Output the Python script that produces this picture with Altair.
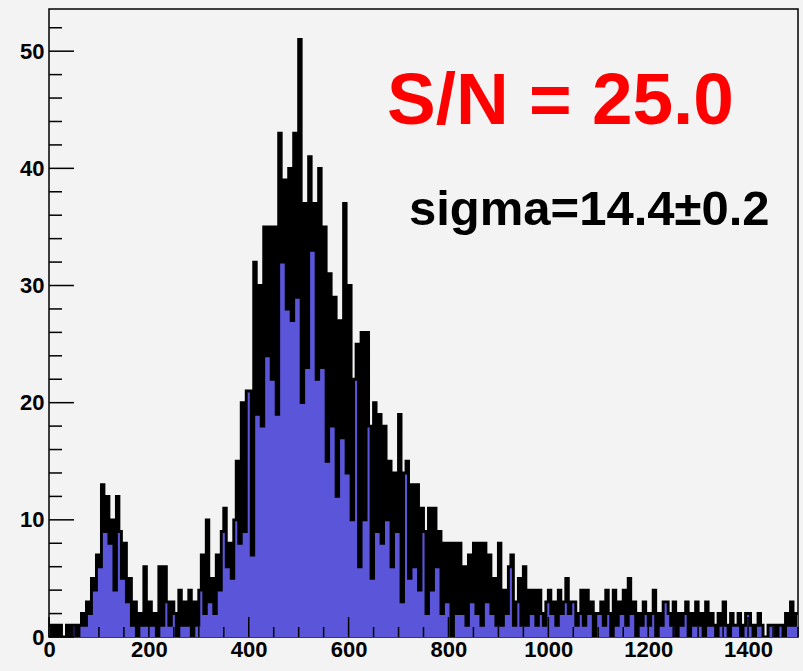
import altair as alt
import pandas as pd

BIN_WIDTH = 5
X_MAX = 1500
Y_MAX = 53.6

# counts per 5-unit bin, starting at 0 (10 bins per row = 50 units)
counts = [
    1, 0, 1, 0, 1, 0, 0, 1, 0, 1,        # 0
    1, 0, 1, 2, 1, 3, 2, 5, 4, 7,        # 50
    6, 13, 9, 12, 8, 10, 4, 12, 9, 5,    # 100
    8, 3, 5, 1, 3, 0, 2, 1, 6, 1,        # 150
    3, 1, 2, 0, 6, 1, 6, 3, 1, 3,        # 200
    2, 0, 4, 1, 3, 1, 4, 0, 3, 1,        # 250
    4, 7, 2, 10, 3, 5, 2, 7, 4, 9,       # 300
    11, 6, 8, 5, 10, 15, 8, 20, 9, 21,   # 350
    21, 7, 32, 19, 30, 18, 35, 24, 35, 22,   # 400
    35, 19, 43, 32, 39, 28, 40, 27, 43, 29,  # 450
    51, 20, 37, 23, 41, 33, 37, 22, 40, 23,  # 500
    35, 15, 31, 18, 29, 12, 27, 17, 37, 14,  # 550
    30, 10, 22, 25, 6, 26, 10, 26, 18, 5,    # 600
    20, 9, 19, 8, 18, 10, 15, 6, 14, 9,      # 650
    19, 3, 14, 15, 5, 13, 6, 13, 4, 11,      # 700
    9, 2, 11, 4, 11, 6, 9, 2, 8, 3,          # 750
    8, 0, 8, 2, 8, 2, 6, 1, 7, 3,            # 800
    8, 2, 8, 1, 8, 3, 7, 2, 5, 1,            # 850
    8, 1, 4, 2, 6, 7, 1, 3, 5, 1,            # 900
    6, 1, 4, 2, 4, 1, 4, 2, 1, 3,            # 950
    4, 2, 3, 1, 4, 2, 3, 5, 2, 3,            # 1000
    3, 1, 2, 4, 1, 4, 2, 3, 0, 2,            # 1050
    2, 3, 1, 4, 2, 0, 4, 1, 3, 2,            # 1100
    4, 1, 5, 2, 3, 0, 2, 1, 3, 2,            # 1150
    1, 2, 4, 0, 2, 1, 3, 3, 2, 1,            # 1200
    3, 0, 2, 1, 2, 3, 0, 2, 1, 3,            # 1250
    1, 2, 0, 3, 1, 2, 1, 0, 2, 1,            # 1300
    3, 1, 0, 2, 1, 1, 2, 0, 1, 2,            # 1350
    2, 1, 0, 1, 2, 1, 0, 0, 1, 1,            # 1400
    1, 0, 1, 1, 0, 2, 1, 3, 1, 2,            # 1450
]

x_major = [0, 200, 400, 600, 800, 1000, 1200, 1400]
x_minor = [v for v in range(0, X_MAX + 1, 50) if v % 200 != 0]
y_major = [0, 10, 20, 30, 40, 50]
y_minor = [v for v in range(0, 53, 2) if v % 10 != 0]

title_text = "S/N = 25.0"
sigma_text = "sigma=14.4\u00b10.2"

edges = [i * BIN_WIDTH for i in range(len(counts))] + [len(counts) * BIN_WIDTH]
vals = counts + [counts[-1]]
hist = pd.DataFrame({"x": edges, "n": vals})

W, H = 749, 628
FONT = "Liberation Sans"

xs = alt.Scale(domain=[0, X_MAX], nice=False, zero=False)
ys = alt.Scale(domain=[0, Y_MAX], nice=False)

xaxis = alt.Axis(
    values=x_major, title=None, ticks=False, domain=False, grid=False, format="d",
    labelFontSize=22, labelFontWeight="bold", labelFont=FONT,
    labelColor="black", labelPadding=2, labelFlush=False)
yaxis = alt.Axis(
    values=y_major, title=None, ticks=False, domain=False, grid=False, format="d",
    labelFontSize=22, labelFontWeight="bold", labelFont=FONT,
    labelColor="black", labelPadding=5, labelFlush=False)

area = alt.Chart(hist).mark_area(
    interpolate="step-after", color="#5a55d9", clip=True
).encode(
    x=alt.X("x:Q", scale=xs, axis=xaxis),
    y=alt.Y("n:Q", scale=ys, axis=yaxis),
)

line = alt.Chart(hist).mark_line(
    interpolate="step-after", color="black", strokeWidth=2.9, clip=True
).encode(x=alt.X("x:Q", scale=xs, axis=xaxis), y=alt.Y("n:Q", scale=ys, axis=yaxis))

ymaj = alt.Chart(pd.DataFrame({"n": y_major})).mark_rule(color="black", strokeWidth=1.5).encode(
    y=alt.Y("n:Q", scale=ys, axis=yaxis), x=alt.value(0), x2=alt.value(25))
ymin = alt.Chart(pd.DataFrame({"n": y_minor})).mark_rule(color="black", strokeWidth=1.5).encode(
    y=alt.Y("n:Q", scale=ys, axis=yaxis), x=alt.value(0), x2=alt.value(13))
xmaj = alt.Chart(pd.DataFrame({"x": x_major})).mark_rule(color="black", strokeWidth=1.5).encode(
    x=alt.X("x:Q", scale=xs, axis=xaxis), y=alt.value(H), y2=alt.value(H - 20))
xmin = alt.Chart(pd.DataFrame({"x": x_minor})).mark_rule(color="black", strokeWidth=1.5).encode(
    x=alt.X("x:Q", scale=xs, axis=xaxis), y=alt.value(H), y2=alt.value(H - 10))

sn = alt.Chart(pd.DataFrame({"t": [title_text]})).mark_text(
    align="left", baseline="alphabetic", fontSize=73, fontWeight="bold",
    font=FONT, color="#ff0000"
).encode(text="t:N", x=alt.value(338), y=alt.value(115))

sig = alt.Chart(pd.DataFrame({"t": [sigma_text]})).mark_text(
    align="left", baseline="alphabetic", fontSize=49, fontWeight="bold",
    font=FONT, color="black"
).encode(text="t:N", x=alt.value(360), y=alt.value(216))

chart = alt.layer(area, line, ymaj, ymin, xmaj, xmin, sn, sig).properties(
    width=W, height=H,
    autosize=alt.AutoSizeParams(type="none"),
    padding={"left": 49, "top": 9, "right": 5, "bottom": 34},
    background="#f3f3f3",
).configure_view(stroke="black", strokeWidth=1.5, fill="#f3f3f3")

chart.save("out.html", embed_options={"renderer": "svg", "actions": False})
